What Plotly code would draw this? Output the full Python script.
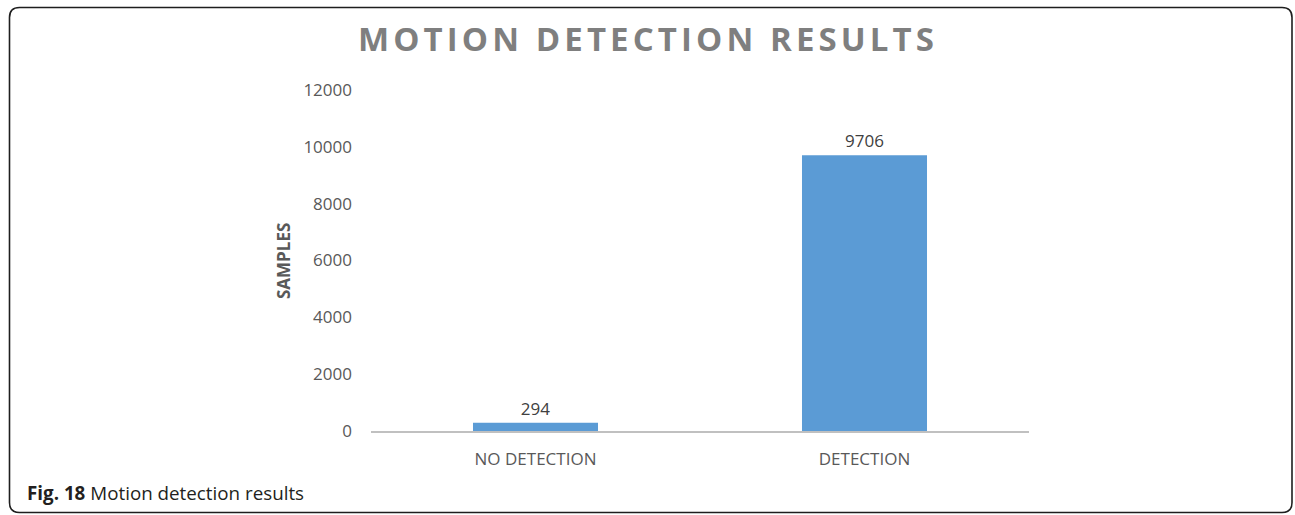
import plotly.graph_objects as go

categories = ["NO DETECTION", "DETECTION"]
samples = [294, 9706]
y_ticks = [0, 2000, 4000, 6000, 8000, 10000, 12000]

W, H = 1295, 515
FONT = "Open Sans"

def px(x):
    return x / W

def py(y):
    return 1 - y / H

fig = go.Figure()
fig.add_trace(go.Bar(
    x=categories, y=samples,
    marker=dict(color="#5b9bd5", line=dict(width=0)),
    text=[str(v) for v in samples], textposition="outside",
    textfont=dict(family=FONT, size=17, color="#404040"),
    cliponaxis=False, width=0.38,
))

fig.update_layout(
    width=W, height=H,
    margin=dict(l=0, r=0, t=0, b=0),
    paper_bgcolor="white", plot_bgcolor="white",
    showlegend=False,
    xaxis=dict(domain=[px(371), px(1029)], showgrid=False, zeroline=False,
               showline=True, linecolor="#c0c0c0", linewidth=2, ticks="",
               tickfont=dict(family=FONT, size=17, color="#595959"),
               ticklabelstandoff=12, automargin=False),
    yaxis=dict(domain=[py(431), py(90)], range=[0, 12000], tickvals=y_ticks,
               ticktext=[str(v) for v in y_ticks],
               showgrid=False, zeroline=False, showline=False, ticks="",
               tickfont=dict(family=FONT, size=17, color="#595959"),
               ticklabelstandoff=18, automargin=False),
)

# Rounded frame
x0, x1, y0, y1, r = px(9.5), px(1292), py(7.5), py(512.5), 10
rx, ry = r / W, r / H
path = (f"M {x0+rx},{y0} L {x1-rx},{y0} Q {x1},{y0} {x1},{y0-ry} "
        f"L {x1},{y1+ry} Q {x1},{y1} {x1-rx},{y1} L {x0+rx},{y1} "
        f"Q {x0},{y1} {x0},{y1+ry} L {x0},{y0-ry} Q {x0},{y0} {x0+rx},{y0} Z")
fig.add_shape(type="path", path=path, xref="paper", yref="paper",
              line=dict(color="#1e1e1e", width=1.6), fillcolor="rgba(0,0,0,0)")

fig.add_annotation(text='<span style="letter-spacing:4.1px"><b>MOTION DETECTION RESULTS</b></span>',
                   xref="paper", yref="paper",
                   x=px(648), y=py(38), showarrow=False, xanchor="center", yanchor="middle",
                   font=dict(family=FONT, size=33, color="#7f7f7f"))
fig.add_annotation(text="<b>SAMPLES</b>", xref="paper", yref="paper",
                   x=px(283), y=py(261), showarrow=False, textangle=-90,
                   xanchor="center", yanchor="middle",
                   font=dict(family=FONT, size=17, color="#595959"))
fig.add_annotation(text="<b>Fig. 18</b> Motion detection results", xref="paper", yref="paper",
                   x=px(25), y=py(493), showarrow=False, xanchor="left", yanchor="middle",
                   font=dict(family=FONT, size=18.8, color="#231f20"))

fig.write_html("out.html")
